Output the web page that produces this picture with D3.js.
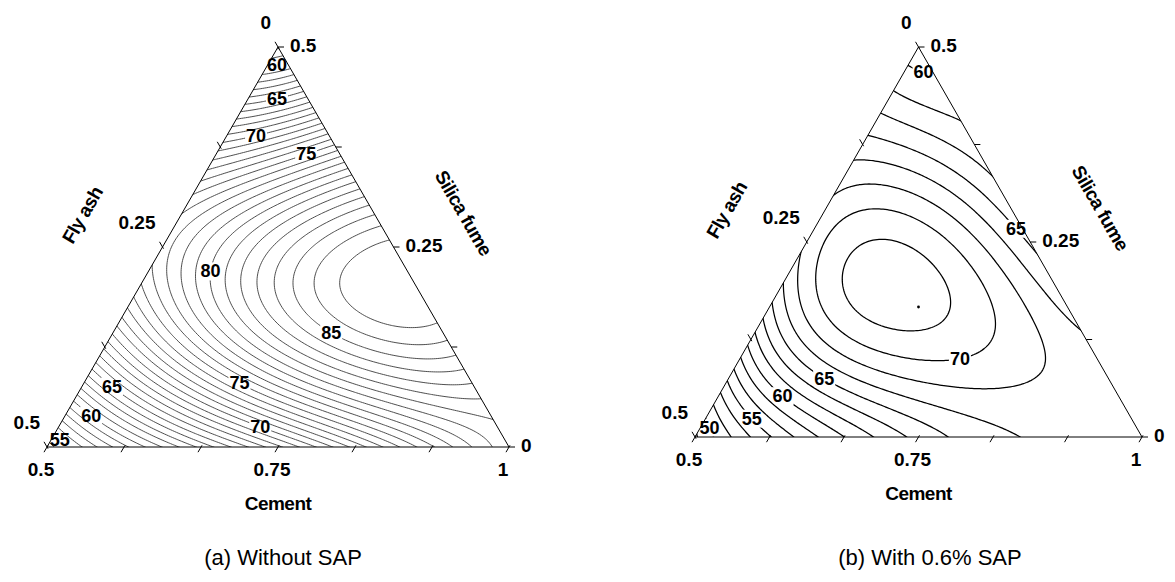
<!DOCTYPE html>
<html><head><meta charset="utf-8">
<script src="https://cdn.jsdelivr.net/npm/d3@7"></script>
<style>
body{margin:0;background:#fff}
svg{display:block}
text{font-family:"Liberation Sans",Arial,sans-serif}
</style></head><body>
<svg id="chart" width="1175" height="582"></svg>
<script>
// Axis tick labels (mass fractions of the binder)
const cementTicks=[0.5,0.75,1];
const flyAshTicks=[0.5,0.25,0];
const silicaTicks=[0,0.25,0.5];

// Fitted response surface, panel (a): Scheffé-type quartic in pseudo-components
const coefA=[80.74,53.46,57.80,2.61,72.44,83.29,-0.21,-6.98,-0.65,39.18,47.83,-29.79,21.14,5.34,-50.70,-39.43];
// Fitted response surface, panel (b): 5th-degree polynomial in plane coordinates
const coefB=[72.37,-5.84,6.59,-61.77,-58.84,-85.55,66.34,-105.75,77.95,-1.89,-13.21,153.96,204.07,66.17,203.86,69.14,-85.19,-275.00,648.69,-69.82,-147.00];

// Contour levels
const levelsA=[53,54,55,56,57,58,59,60,61,62,63,64,65,66,67,68,69,70,71,72,73,74,75,76,77,78,79,80,81,82,83,84,85,86,87];
const levelsB=[145/3,50,155/3,160/3,55,170/3,175/3,60,185/3,190/3,65,200/3,205/3,70,215/3];

// Labelled contour values and the composition (cement, silica fume) near which each label sits
const labelValuesA=[60,65,70,75,80,85,75,70,65,60,55];
const labelSpotsA=[[0.508,0.48],[0.5255,0.4425],[0.537,0.381],[0.595,0.369],[0.570,0.22],[0.735,0.1425],[0.669,0.08],[0.718,0.025],[0.532,0.0775],[0.527,0.04],[0.510,0.00875]];
const labelValuesB=[60,65,70,65,60,55,50];
const labelSpotsB=[[0.522,0.464],[0.7186,0.2564],[0.7477,0.0974],[0.6066,0.082],[0.5725,0.0564],[0.5527,0.0244],[0.508,0.0103]];

// Centroid mix marked in panel (b): cement, fly ash, silica fume
const centroidB=[2/3,1/6,1/6];

function termsA(u,f,s){return [u,f,s,u*f,u*s,f*s,u*f*(u-f),u*s*(u-s),f*s*(f-s),u*f*s,u*u*f*s,u*f*f*s,u*f*s*s,u*f*(u-f)*(u-f),u*s*(u-s)*(u-s),f*s*(f-s)*(f-s)];}
function termsB(u,f,s){const p=u+s/2-0.5,q=s-1/3,t=[];for(let d=0;d<=5;d++)for(let j=0;j<=d;j++)t.push(Math.pow(p,d-j)*Math.pow(q,j));return t;}
const dot=(c,t)=>t.reduce((a,v,i)=>a+v*c[i],0);

const svg=d3.select('#chart');
const defs=svg.append('defs');

const panels=[
 {key:'a',left:47,right:509,base:447,top:47,levels:levelsA,labelValues:labelValuesA,labelSpots:labelSpotsA,
  model:(u,f,s)=>dot(coefA,termsA(u,f,s)),stroke:'#3a3a3a',sw:0.9,caption:'(a) Without SAP',capX:283},
 {key:'b',left:695,right:1142,base:437,top:47,levels:levelsB,labelValues:labelValuesB,labelSpots:labelSpotsB,
  model:(u,f,s)=>dot(coefB,termsB(u,f,s)),stroke:'#000',sw:1.25,caption:'(b) With 0.6% SAP',capX:930,point:centroidB}
];

panels.forEach(P=>{
 // pseudo-components: u (cement 0.5..1), f (fly ash 0..0.5), s (silica fume 0..0.5), u+f+s=1
 const xs=d3.scaleLinear().domain([0,1]).range([P.left,P.right]);
 const ys=d3.scaleLinear().domain([0,1]).range([P.base,P.top]);
 const pt=(u,f,s)=>[xs(u+s/2),ys(s)];
 const fromMix=(cement,silica)=>{const u=2*cement-1,s=2*silica;return pt(u,1-u-s,s);};
 const g=svg.append('g');

 const V=[pt(0,0,1),pt(0,1,0),pt(1,0,0)];
 defs.append('clipPath').attr('id','clip'+P.key).append('polygon').attr('points',V.map(p=>p.join(',')).join(' '));

 // sample the surface on a grid slightly larger than the triangle
 const nx=240,ny=240,pad=0.04;
 const gX=d3.scaleLinear().domain([0,nx-1]).range([-pad,1+pad]);
 const gY=d3.scaleLinear().domain([0,ny-1]).range([-pad,1+pad]);
 const vals=new Float64Array(nx*ny);
 for(let j=0;j<ny;j++)for(let i=0;i<nx;i++){const s=gY(j),u=gX(i)-s/2;vals[j*nx+i]=P.model(u,1-u-s,s);}
 const cs=d3.contours().size([nx,ny]).thresholds(P.levels)(vals);
 const toPx=(x,y)=>[xs(gX(x-0.5)),ys(gY(y-0.5))];
 const proj=d3.geoTransform({point(x,y){const p=toPx(x,y);this.stream.point(p[0],p[1]);}});
 const path=d3.geoPath(proj);

 // contour labels, each placed on its own line nearest the given composition
 const lg=g.append('g');
 const boxes={};
 P.labelValues.forEach((lv,k)=>{
  const [ax,ay]=fromMix(...P.labelSpots[k]);
  const geo=cs.find(d=>d.value===lv);let best=null,bd=1e9;
  geo.coordinates.forEach(poly=>poly.forEach(ring=>ring.forEach(([x,y])=>{const p=toPx(x,y);const d=(p[0]-ax)**2+(p[1]-ay)**2;if(d<bd){bd=d;best=p;}})));
  if(!best)return;
  const t=lg.append('text').attr('x',best[0]).attr('y',best[1]).attr('text-anchor','middle').attr('dominant-baseline','central').attr('font-size',18).attr('font-weight','bold').text(lv);
  const bb=t.node().getBBox();(boxes[lv]=boxes[lv]||[]).push(bb);
 });
 // break each labelled line under its label
 Object.keys(boxes).forEach(lv=>{const m=defs.append('mask').attr('id','m'+P.key+lv).attr('maskUnits','userSpaceOnUse').attr('x',0).attr('y',0).attr('width',1175).attr('height',582);
  m.append('rect').attr('width',1175).attr('height',582).attr('fill','#fff');
  boxes[lv].forEach(b=>m.append('rect').attr('x',b.x-1).attr('y',b.y+1).attr('width',b.width+2).attr('height',b.height-2).attr('fill','#000'));});
 const cg=g.insert('g',':first-child').attr('clip-path','url(#clip'+P.key+')');
 cg.selectAll('path').data(cs).join('path').attr('d',path).attr('fill','none').attr('stroke',P.stroke).attr('stroke-width',P.sw)
   .attr('mask',d=>boxes[d.value]?'url(#m'+P.key+d.value+')':null);

 if(P.point){const [c,fa,sf]=P.point;const p=fromMix(c,sf);g.append('circle').attr('cx',p[0]).attr('cy',p[1]).attr('r',1.4).attr('fill','#000');}

 // triangle frame and ticks
 g.append('polygon').attr('points',V.map(p=>p.join(',')).join(' ')).attr('fill','none').attr('stroke','#000').attr('stroke-width',1);
 const tk=g.append('g').attr('stroke','#000').attr('stroke-width',1);
 d3.range(7).forEach(k=>{const u=k/6;const p=pt(u,1-u,0);tk.append('line').attr('x1',p[0]+1).attr('y1',p[1]-1.7).attr('x2',p[0]-3).attr('y2',p[1]+5.2);});
 d3.range(5).forEach(k=>{const f=k/4;const p=pt(0,f,1-f);tk.append('line').attr('x1',p[0]+1).attr('y1',p[1]+1.7).attr('x2',p[0]-3).attr('y2',p[1]-5.2);});
 d3.range(5).forEach(k=>{const s=k/4;const p=pt(1-s,0,s);tk.append('line').attr('x1',p[0]).attr('y1',p[1]).attr('x2',p[0]+6).attr('y2',p[1]);});

 const tl=g.append('g').attr('font-size',19).attr('font-weight','bold');
 cementTicks.forEach(c=>{const p=fromMix(c,0);tl.append('text').attr('x',p[0]-6).attr('y',p[1]+22).attr('text-anchor','middle').attr('dominant-baseline','central').text(c);});
 flyAshTicks.forEach(fa=>{const p=fromMix(0.5,0.5-fa);tl.append('text').attr('x',p[0]-7).attr('y',p[1]-18).attr('text-anchor','end').text(fa);});
 silicaTicks.forEach(sf=>{const p=fromMix(1-sf,sf);tl.append('text').attr('x',p[0]+12).attr('y',p[1]-2).attr('dominant-baseline','central').text(sf);});

 const mL=pt(0,0.5,0.5),mR=pt(0.5,0,0.5),mB=pt(0.5,0.5,0);
 const title=(sel)=>sel.attr('text-anchor','middle').attr('dominant-baseline','central').attr('font-size',19).attr('font-weight','bold').attr('letter-spacing',-0.5);
 g.append('text').attr('transform',`translate(${mL[0]-80},${mL[1]-32}) rotate(-60)`).call(title).text('Fly ash');
 g.append('text').attr('transform',`translate(${mR[0]+70},${mR[1]-34}) rotate(60)`).call(title).text('Silica fume');
 g.append('text').attr('x',mB[0]).attr('y',mB[1]+56).call(title).text('Cement');
 g.append('text').attr('x',P.capX).attr('y',557).attr('text-anchor','middle').attr('dominant-baseline','central').attr('font-size',22).text(P.caption);
});
</script></body></html>
